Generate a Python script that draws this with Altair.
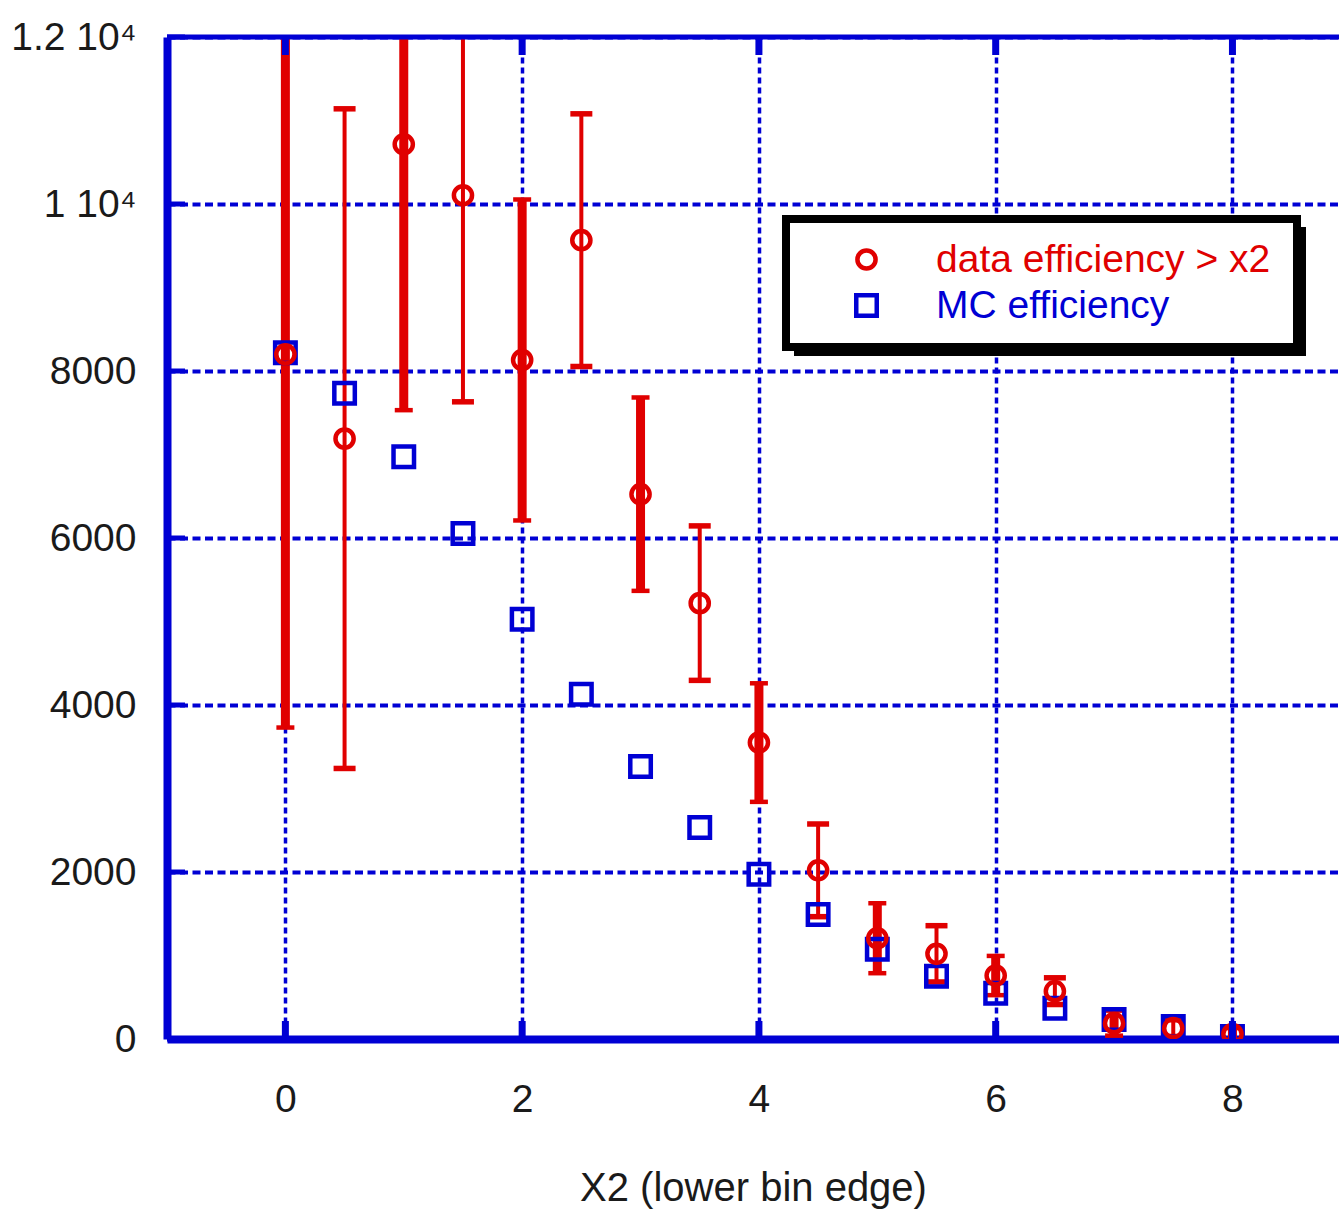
import altair as alt
import pandas as pd

# ---- values ---------------------------------------------------------------
x_bins = [0, 0.5, 1, 1.5, 2, 2.5, 3, 3.5, 4, 4.5, 5, 5.5, 6, 6.5, 7, 7.5, 8]
data_eff = [8200, 7190, 10716, 10105, 8132, 9567, 6525, 5220, 3550, 2020,
            1207, 1020, 760, 573, 190, 130, 60]
data_err = [4470, 3950, 3185, 2474, 1922, 1513, 1158, 925, 710, 555,
            419, 337, 235, 160, 150, 100, 70]
mc_eff = [8218, 7734, 6972, 6054, 5028, 4130, 3263, 2533, 1974, 1491,
          1075, 752, 549, 369, 234, 150, 30]

series_names = ["data efficiency > x2", "MC efficiency"]
x_ticks = [0, 2, 4, 6, 8]
y_ticks = [0, 2000, 4000, 6000, 8000, 10000, 12000]
y_tick_labels = ["0", "2000", "4000", "6000", "8000", "1 10\u2074", "1.2 10\u2074"]
x_title = "X2 (lower bin edge)"

# ---- styling --------------------------------------------------------------
BLUE = "#0000d4"
RED = "#e00000"
FONT = "Liberation Sans"
W, H = 1172, 1002
LEG_X, LEG_Y, LEG_W, LEG_H = 619, 182, 511, 128

xs = alt.Scale(domain=[-1, 8.9], nice=False, zero=False)
ys = alt.Scale(domain=[0, 12000], nice=False, zero=False)

# ---- tables ---------------------------------------------------------------
err_df = pd.DataFrame({"x": x_bins, "y": data_eff, "err": data_err})
err_df["lo"] = err_df["y"] - err_df["err"]
err_df["hi"] = err_df["y"] + err_df["err"]
err_df["heavy"] = err_df["x"] % 1 == 0

pts_df = pd.concat([
    pd.DataFrame({"x": x_bins, "y": data_eff, "series": series_names[0]}),
    pd.DataFrame({"x": x_bins, "y": mc_eff, "series": series_names[1]}),
], ignore_index=True)

xt_df = pd.DataFrame({"v": x_ticks})
yt_df = pd.DataFrame({"v": y_ticks})

label_expr = "datum.label"
for v, lab in zip(y_ticks, y_tick_labels):
    label_expr = f"datum.value == {v} ? '{lab}' : ({label_expr})"

x_axis = alt.Axis(values=x_ticks, format="d", grid=True, gridColor=BLUE,
                  gridDash=[6, 4], gridWidth=3.5, gridOpacity=1,
                  domainColor=BLUE, domainWidth=8, ticks=False, tickSize=0,
                  labelPadding=41, labelFont=FONT, labelFontSize=39,
                  labelColor="#1a1a1a", title=x_title, titleFont=FONT,
                  titleFontSize=40, titleFontWeight="normal",
                  titleColor="#1a1a1a", titleBaseline="alphabetic", titleY=161)
y_axis = alt.Axis(values=y_ticks, grid=True, gridColor=BLUE, gridDash=[8, 4.5],
                  gridWidth=4, gridOpacity=1, domainColor=BLUE, domainWidth=8,
                  ticks=False, tickSize=0, labelPadding=31, labelFont=FONT,
                  labelFontSize=39, labelColor="#1a1a1a", labelExpr=label_expr,
                  title=None)

# ---- layers ---------------------------------------------------------------
base_err = alt.Chart(err_df)

def bars(heavy, width, cap_w, cap_t):
    src = base_err.transform_filter(alt.datum.heavy == heavy)
    stem = src.mark_rule(color=RED, strokeWidth=width, clip=True).encode(
        x=alt.X("x:Q", scale=xs, axis=x_axis),
        y=alt.Y("lo:Q", scale=ys, axis=y_axis),
        y2="hi:Q",
    )
    cap_lo = src.mark_tick(color=RED, orient="horizontal", size=cap_w,
                           thickness=cap_t, opacity=1, clip=True).encode(
        x="x:Q", y="lo:Q")
    cap_hi = src.mark_tick(color=RED, orient="horizontal", size=cap_w,
                           thickness=cap_t, opacity=1, clip=True).encode(
        x="x:Q", y="hi:Q")
    return [stem, cap_lo, cap_hi]

legend = alt.Legend(
    title=None, orient="none", legendX=LEG_X, legendY=LEG_Y,
    padding=21, symbolOffset=40, labelOffset=50, rowPadding=6,
    labelFont=FONT, labelFontSize=39, labelLimit=0, symbolSize=484,
    symbolStrokeWidth=4.5,
    labelColor=alt.ExprRef(expr="scale('color', datum.value)"),
)

points = alt.Chart(pts_df).mark_point(filled=False, strokeWidth=4.5, opacity=1,
                                      clip=True).encode(
    x="x:Q",
    y="y:Q",
    color=alt.Color("series:N", scale=alt.Scale(domain=series_names,
                                                range=[RED, BLUE]), legend=legend),
    shape=alt.Shape("series:N", scale=alt.Scale(domain=series_names,
                                                range=["circle", "square"]),
                    legend=legend),
    size=alt.Size("series:N", scale=alt.Scale(domain=series_names,
                                              range=[330, 420]), legend=None),
    order=alt.Order("series:N"),
)

# inward frame ticks and top edge
tick_x_bottom = alt.Chart(xt_df).mark_rule(color=BLUE, strokeWidth=7).encode(
    x="v:Q", y=alt.value(H), y2=alt.value(H - 18))
tick_x_top = alt.Chart(xt_df).mark_rule(color=BLUE, strokeWidth=7).encode(
    x="v:Q", y=alt.value(0), y2=alt.value(18))
tick_y_left = alt.Chart(yt_df).mark_rule(color=BLUE, strokeWidth=5).encode(
    y="v:Q", x=alt.value(0), x2=alt.value(18))
top_border = alt.Chart(xt_df.head(1)).mark_rule(color=BLUE, strokeWidth=5).encode(
    y=alt.value(0), x=alt.value(0), x2=alt.value(W + 20))

# legend frame with a drop shadow
shadow = alt.Chart(xt_df.head(1)).mark_rect(color="black").encode(
    x=alt.value(LEG_X + 8), x2=alt.value(LEG_X + LEG_W + 9),
    y=alt.value(LEG_Y + 8), y2=alt.value(LEG_Y + LEG_H + 9))
frame = alt.Chart(xt_df.head(1)).mark_rect(
    fill="white", stroke="black", strokeWidth=8).encode(
    x=alt.value(LEG_X), x2=alt.value(LEG_X + LEG_W),
    y=alt.value(LEG_Y), y2=alt.value(LEG_Y + LEG_H))

layers = (bars(True, 9, 18, 4.5) + bars(False, 4, 22, 5.5)
          + [points, tick_x_bottom, tick_x_top, tick_y_left, top_border,
             shadow, frame])

chart = alt.layer(*layers).properties(
    width=W, height=H,
    autosize=alt.AutoSizeParams(type="none"),
    padding={"left": 167, "top": 37, "right": 0, "bottom": 170},
).configure_view(stroke=None).configure(background="white")

chart.save("out.html", embed_options={"renderer": "svg", "actions": False})
